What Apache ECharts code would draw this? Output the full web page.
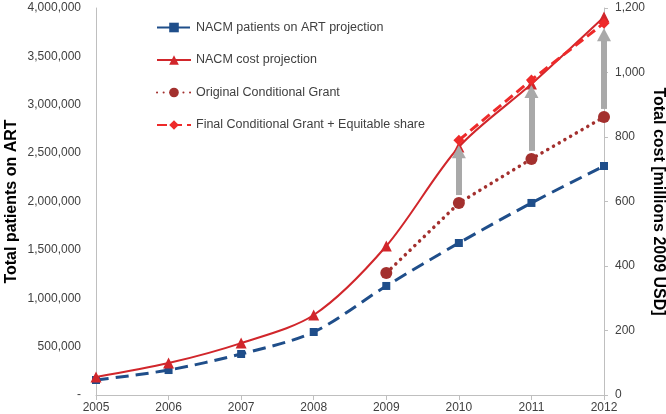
<!DOCTYPE html>
<html>
<head>
<meta charset="utf-8">
<script src="https://cdn.jsdelivr.net/npm/echarts@6/dist/echarts.min.js"></script>
<style>
  html, body { margin: 0; padding: 0; background: #ffffff; }
  #chart { width: 666px; height: 414px; }
</style>
</head>
<body>
<div id="chart"></div>
<script>
const years = ['2005', '2006', '2007', '2008', '2009', '2010', '2011', '2012'];
const patientsOnArt = [155000, 258000, 424000, 651000, 1127000, 1571000, 1985000, 2367000];
const costProjection = [56, 99, 161, 248, 462, 769, 964, 1172];
const originalGrant = [null, null, null, null, 378, 595, 732, 862];
const finalGrant = [null, null, null, null, null, 790, 977, 1153];
const arrowYears = ['2010', '2011', '2012'];

const leftTicks = { min: 0, max: 4000000, interval: 500000 };
const rightTicks = { min: 0, max: 1200, interval: 200 };

document.addEventListener('DOMContentLoaded', () => {
    const myChart = echarts.init(document.getElementById('chart'), null, { renderer: 'canvas' });

    const font = '"Liberation Sans", Arial, sans-serif';
    const axisGrey = '#bfbfbf';
    const textGrey = '#404040';

    // arrows go from just above the original grant point to just below the final one
    const arrowStartPad = 25;
    const arrowEndPad = 36;
    const arrows = arrowYears.map(y => {
        const i = years.indexOf(y);
        return [
            { coord: [y, originalGrant[i] + arrowStartPad] },
            { coord: [y, finalGrant[i] - arrowEndPad] }
        ];
    });

    const option = {
        backgroundColor: '#ffffff',
        animation: false,
        textStyle: { fontFamily: font },
        grid: { left: 96, right: 62, top: 8, bottom: 19, outerBoundsMode: 'none', containLabel: false },
        legend: {
            orient: 'vertical',
            left: 151,
            top: 16,
            itemWidth: 34,
            itemHeight: 12,
            itemGap: 19.5,
            textStyle: { color: textGrey, fontSize: 12.5, fontFamily: font },
            data: [
                'NACM patients on ART projection',
                'NACM cost projection',
                'Original Conditional Grant',
                'Final Conditional Grant + Equitable share'
            ]
        },
        xAxis: {
            type: 'category',
            data: years,
            boundaryGap: false,
            axisLine: { lineStyle: { color: axisGrey, width: 1 } },
            axisTick: { show: true, length: 5, lineStyle: { color: axisGrey } },
            axisLabel: { color: textGrey, fontSize: 12, margin: 7, fontFamily: font },
            splitLine: { show: false }
        },
        yAxis: [
            {
                type: 'value',
                min: leftTicks.min,
                max: leftTicks.max,
                interval: leftTicks.interval,
                name: 'Total patients on ART',
                nameLocation: 'middle',
                nameGap: 76,
                nameMoveOverlap: false,
                nameRotate: 90,
                nameTextStyle: { color: '#000000', fontSize: 16, fontWeight: 'bold', fontFamily: font },
                axisLine: { show: true, lineStyle: { color: axisGrey } },
                axisTick: { show: false },
                axisLabel: {
                    color: textGrey,
                    fontSize: 12,
                    margin: 15,
                    fontFamily: font,
                    formatter: v => v === 0 ? '-' : v.toLocaleString('en-US')
                },
                splitLine: { show: false }
            },
            {
                type: 'value',
                min: rightTicks.min,
                max: rightTicks.max,
                interval: rightTicks.interval,
                position: 'right',
                name: 'Total cost [millions 2009 USD]',
                nameLocation: 'middle',
                nameGap: 46,
                nameMoveOverlap: false,
                nameRotate: -90,
                nameTextStyle: { color: '#000000', fontSize: 16, fontWeight: 'bold', fontFamily: font },
                axisLine: { show: true, lineStyle: { color: axisGrey } },
                axisTick: { show: true, length: 4, lineStyle: { color: axisGrey } },
                axisLabel: {
                    color: textGrey,
                    fontSize: 12,
                    margin: 11,
                    fontFamily: font,
                    formatter: v => v.toLocaleString('en-US')
                },
                splitLine: { show: false }
            }
        ],
        series: [
            {
                name: 'NACM patients on ART projection',
                type: 'line',
                yAxisIndex: 0,
                data: patientsOnArt,
                smooth: 0.3,
                symbol: 'rect',
                symbolSize: 8,
                z: 3,
                itemStyle: { color: '#1f4e8a' },
                lineStyle: { color: '#1f4e8a', width: 3, type: [13, 7] }
            },
            {
                name: 'NACM cost projection',
                type: 'line',
                yAxisIndex: 1,
                data: costProjection,
                smooth: 0.3,
                symbol: 'triangle',
                symbolSize: 11,
                z: 4,
                itemStyle: { color: '#d1262b' },
                lineStyle: { color: '#d1262b', width: 2 }
            },
            {
                name: 'Original Conditional Grant',
                type: 'line',
                yAxisIndex: 1,
                data: originalGrant,
                symbol: 'circle',
                symbolSize: 12,
                z: 3,
                itemStyle: { color: '#a3302e' },
                lineStyle: { color: '#a3302e', width: 3.5, type: [0.1, 6.5], cap: 'round' }
            },
            {
                name: 'Final Conditional Grant + Equitable share',
                type: 'line',
                yAxisIndex: 1,
                data: finalGrant,
                symbol: 'diamond',
                symbolSize: 11,
                z: 5,
                itemStyle: { color: '#ee2a2a' },
                lineStyle: { color: '#ee2a2a', width: 3, type: [10, 5] },
                markLine: {
                    silent: true,
                    symbol: ['none', 'triangle'],
                    symbolSize: [14, 13],
                    label: { show: false },
                    lineStyle: { color: '#a9a9a9', width: 6, type: 'solid' },
                    emphasis: { disabled: true },
                    data: arrows
                }
            }
        ]
    };

    myChart.setOption(option);
});
</script>
</body>
</html>
